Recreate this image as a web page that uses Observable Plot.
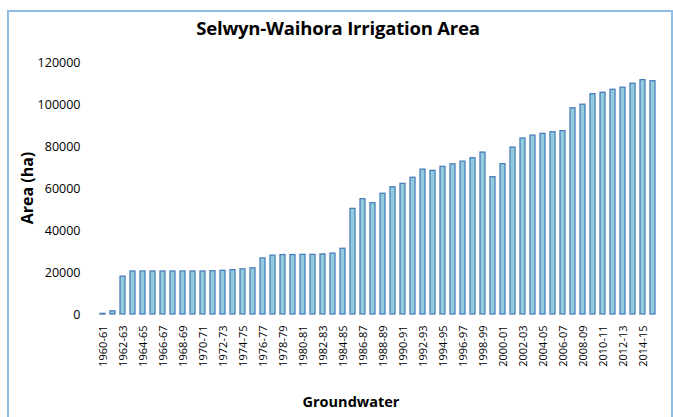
<!DOCTYPE html>
<html><head><meta charset="utf-8">
<script src="https://cdn.jsdelivr.net/npm/d3@7"></script>
<script src="https://cdn.jsdelivr.net/npm/@observablehq/plot@0.6"></script>
<style>
body{margin:0;background:#fff;}
#wrap{position:relative;width:673px;height:417px;overflow:hidden;font-family:"Open Sans",sans-serif;color:#000;}
#frame{position:absolute;left:7px;top:10px;width:662px;height:460px;border-left:2px solid #8fbde3;border-top:2px solid #8fbde3;border-right:2px solid #8fbde3;}
#title{position:absolute;left:0;width:676px;top:14px;text-align:center;font-weight:bold;font-size:18.5px;line-height:28px;letter-spacing:-0.2px;}
#ylab{position:absolute;left:27px;top:188px;transform:translate(-50%,-50%) rotate(-90deg);font-weight:bold;font-size:16px;white-space:nowrap;}
#xlab{position:absolute;left:0;width:702px;top:392px;text-align:center;font-weight:bold;font-size:14.5px;line-height:20px;}
#chart{position:absolute;left:0;top:0;}
</style></head>
<body><div id="wrap"><div id="frame"></div><div id="chart"></div>
<div id="title">Selwyn-Waihora Irrigation Area</div>
<div id="ylab">Area (ha)</div>
<div id="xlab">Groundwater</div></div>
<script>
const categories = ["1960-61","1961-62","1962-63","1963-64","1964-65","1965-66","1966-67","1967-68","1968-69","1969-70",
"1970-71","1971-72","1972-73","1973-74","1974-75","1975-76","1976-77","1977-78","1978-79","1979-80",
"1980-81","1981-82","1982-83","1983-84","1984-85","1985-86","1986-87","1987-88","1988-89","1989-90",
"1990-91","1991-92","1992-93","1993-94","1994-95","1995-96","1996-97","1997-98","1998-99","1999-00",
"2000-01","2001-02","2002-03","2003-04","2004-05","2005-06","2006-07","2007-08","2008-09","2009-10",
"2010-11","2011-12","2012-13","2013-14","2014-15","2015-16"];
const areaHa = [300,1500,18000,20500,20500,20500,20500,20500,20500,20500,
20500,20600,20800,21100,21500,22000,26700,28000,28300,28300,
28400,28400,28600,29000,31300,50300,54900,53000,57500,60600,
62200,65100,69000,68400,70300,71500,72800,74400,77100,65400,
71600,79500,83800,85200,86000,86800,87300,98200,99900,104900,
105600,107000,108000,109900,111600,111100];
const xTickLabels = ["1960-61","1962-63","1964-65","1966-67","1968-69","1970-71","1972-73","1974-75","1976-77","1978-79",
"1980-81","1982-83","1984-85","1986-87","1988-89","1990-91","1992-93","1994-95","1996-97","1998-99",
"2000-01","2002-03","2004-05","2006-07","2008-09","2010-11","2012-13","2014-15"];
const yTicks = [0,20000,40000,60000,80000,100000,120000];

const data = categories.map((c,i)=>({cat:c, value:areaHa[i]}));
const chart = Plot.plot({
  width:673, height:417,
  marginLeft:90, marginRight:8, marginTop:62, marginBottom:103,
  style:{fontFamily:"'Open Sans',sans-serif", background:"transparent", color:"#000"},
  x:{domain:categories, padding:0.48, align:0.5},
  y:{domain:[0,120000]},
  marks:[
    Plot.barY(data,{x:"cat", y:"value", fill:"#93cddd", stroke:"#4a7ebb", strokeWidth:1.3}),
    Plot.axisX({ticks:xTickLabels, tickRotate:-90, tickSize:0, tickPadding:11, fontSize:11, label:null}),
    Plot.axisY({ticks:yTicks, tickSize:0, tickPadding:10, fontSize:12.5, tickFormat:d=>String(d), label:null})
  ]
});
document.getElementById("chart").appendChild(chart);
</script></body></html>
